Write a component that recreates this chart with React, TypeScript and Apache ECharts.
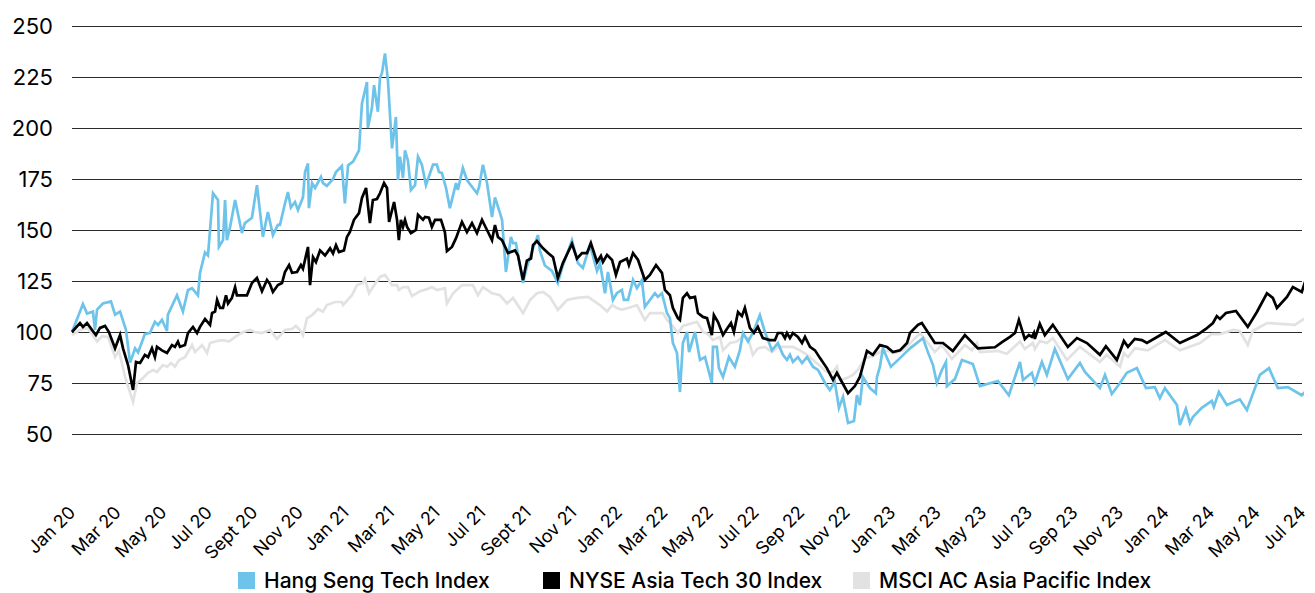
import React, { useEffect, useRef } from "react";
import * as echarts from "echarts";

// x = months since Jan 2020 (fractional), y = index level (Jan 2020 = 100)
const tickLabels = [
  "Jan 20", "Mar 20", "May 20", "Jul 20", "Sept 20", "Nov 20",
  "Jan 21", "Mar 21", "May 21", "Jul 21", "Sept 21", "Nov 21",
  "Jan 22", "Mar 22", "May 22", "Jul 22", "Sep 22", "Nov 22",
  "Jan 23", "Mar 23", "May 23", "Jul 23", "Sep 23", "Nov 23",
  "Jan 24", "Mar 24", "May 24", "Jul 24",
];

const seriesNames = ["Hang Seng Tech Index", "NYSE Asia Tech 30 Index", "MSCI AC Asia Pacific Index"];

const hangSeng: [number, number][] = [
  [0, 100], [0.48, 113.7], [0.66, 109], [0.92, 110], [1.01, 101], [1.1, 111], [1.36, 114], [1.71, 115],
  [1.89, 108.5], [2.11, 110], [2.37, 101], [2.55, 85], [2.77, 92], [2.9, 90], [3.2, 99], [3.42, 99.5],
  [3.64, 105], [3.78, 103.5], [3.95, 106], [4.17, 100.5], [4.21, 108.5], [4.61, 118], [4.87, 110],
  [5.09, 120.5], [5.27, 121.5], [5.53, 118], [5.62, 129], [5.84, 139], [5.97, 137.5], [6.19, 168],
  [6.41, 164.7], [6.45, 141.7], [6.63, 145], [6.72, 164.7], [6.8, 145], [6.94, 151.5], [7.16, 164.7],
  [7.46, 148.5], [7.59, 153.4], [7.9, 156], [8.12, 172], [8.38, 146.6], [8.6, 158.8], [8.82, 147.5],
  [9.04, 152.5], [9.13, 152.5], [9.35, 163], [9.48, 168.6], [9.61, 161], [9.79, 163.7], [9.92, 159.8],
  [10.14, 166], [10.23, 178.4], [10.36, 182.6], [10.4, 160.7], [10.54, 173], [10.67, 170.6], [10.93, 176],
  [11.02, 173], [11.19, 171.6], [11.46, 175], [11.59, 178.4], [11.85, 181.4], [11.98, 163], [12.12, 181.7],
  [12.34, 183.5], [12.6, 189], [12.73, 212], [12.95, 222.5], [12.99, 200], [13.17, 210], [13.26, 221],
  [13.43, 208], [13.52, 224.5], [13.61, 227], [13.74, 236.6], [13.87, 223.5], [14.05, 190], [14.22, 205.4],
  [14.31, 174.5], [14.4, 186], [14.53, 175.5], [14.62, 189], [14.75, 184], [14.88, 169.6], [15.06, 172],
  [15.19, 186], [15.36, 182], [15.54, 172], [15.72, 177.9], [15.85, 182], [16.02, 182], [16.11, 178.4],
  [16.24, 177.9], [16.42, 170.6], [16.59, 160.7], [16.86, 173], [16.94, 169.6], [17.16, 180.4],
  [17.34, 174.5], [17.6, 170.6], [17.78, 168], [17.87, 171], [18.04, 182], [18.22, 173], [18.44, 156.4],
  [18.57, 166], [18.79, 158.3], [18.88, 155], [19.05, 129.4], [19.27, 146.6], [19.36, 143.6],
  [19.49, 143.6], [19.8, 124], [19.97, 132], [20.24, 141], [20.46, 147.5], [20.54, 140], [20.76, 132.6],
  [21.07, 130], [21.33, 124], [21.55, 132.6], [21.95, 145], [22.21, 133.8], [22.43, 131.4], [22.74, 142.6],
  [23.05, 130], [23.18, 133.8], [23.4, 119], [23.53, 129.4], [23.75, 115.7], [23.92, 119], [24.14, 120.6],
  [24.23, 115.7], [24.41, 115.7], [24.63, 125.5], [24.8, 121.5], [25.02, 125.5], [25.15, 112.3],
  [25.37, 115.7], [25.59, 119], [25.72, 117.2], [25.9, 119], [26.12, 109.3], [26.25, 106.8], [26.38, 94.6],
  [26.56, 89.7], [26.69, 70.6], [26.82, 94.6], [27.0, 100], [27.09, 90.2], [27.35, 100], [27.57, 86.3],
  [27.79, 87.7], [28.09, 75], [28.14, 92.7], [28.31, 92.7], [28.4, 82.3], [28.58, 78], [28.84, 87.7],
  [29.1, 83], [29.32, 91], [29.46, 99.5], [29.68, 95.3], [29.89, 99.5], [30.2, 108.3], [30.42, 100],
  [30.73, 91], [30.99, 94.6], [31.21, 88.8], [31.39, 86.3], [31.52, 88.8], [31.65, 85.3], [31.87, 87.7],
  [32.05, 84.8], [32.27, 87.7], [32.53, 83], [32.75, 81.4], [33.06, 75], [33.27, 71.6], [33.49, 75.5],
  [33.67, 62.8], [33.85, 68.2], [34.07, 55.4], [34.33, 56.4], [34.46, 69], [34.59, 64.2], [34.72, 78],
  [35.03, 72.5], [35.29, 70], [35.34, 78], [35.47, 83], [35.6, 92], [35.95, 83], [36.35, 87.2], [36.79, 92],
  [37.36, 97], [37.58, 90], [37.8, 83.8], [37.97, 75], [38.19, 81.4], [38.37, 85.3], [38.41, 73.5],
  [38.76, 76.9], [39.07, 86.3], [39.55, 84.3], [39.86, 73.5], [40.65, 76], [41.13, 69], [41.62, 85.3],
  [41.75, 76.5], [42.14, 80], [42.27, 75], [42.58, 85.3], [42.8, 79], [43.15, 91.7], [43.72, 76.9],
  [44.25, 84.8], [44.47, 80.4], [45.13, 72.5], [45.35, 79], [45.65, 69.6], [46.01, 75], [46.31, 80],
  [46.75, 82.3], [47.15, 72.5], [47.54, 73], [47.76, 67.6], [47.98, 72.5], [48.51, 64.2], [48.64, 54.4],
  [48.9, 62.3], [49.08, 55.4], [49.21, 58.3], [49.6, 62.8], [50.04, 66.2], [50.13, 63.3], [50.35, 70.6],
  [50.7, 64.2], [51.27, 67], [51.58, 61.8], [52.15, 79], [52.55, 82.3], [52.94, 72.5], [53.38, 73],
  [53.99, 69], [54.35, 73], [54.57, 69.6],
];

const nyseAsia: [number, number][] = [
  [0, 100], [0.35, 104.4], [0.48, 102.5], [0.66, 104.4], [0.88, 101], [1.05, 98.5], [1.23, 102], [1.45, 103],
  [1.62, 100], [1.89, 92], [2.11, 98.5], [2.24, 92], [2.46, 83.8], [2.68, 71.6], [2.81, 85.3], [2.99, 84.8],
  [3.2, 88.8], [3.34, 87.7], [3.51, 92], [3.64, 87.7], [3.73, 92.7], [3.95, 91], [4.17, 89.7], [4.39, 93.6],
  [4.52, 92.7], [4.65, 95.3], [4.74, 92.7], [4.96, 93.6], [5.09, 99.5], [5.31, 102.5], [5.49, 99.5],
  [5.62, 102.5], [5.84, 106.4], [6.06, 103.5], [6.15, 109.3], [6.28, 110], [6.37, 115.7], [6.5, 111.8],
  [6.63, 111.8], [6.76, 118], [6.85, 114], [7.02, 116.7], [7.16, 122], [7.24, 118], [7.68, 118], [7.9, 124],
  [8.12, 126.5], [8.34, 120], [8.56, 125.5], [8.69, 123.5], [8.82, 119.6], [9.04, 123], [9.22, 124],
  [9.35, 129.4], [9.53, 132.8], [9.66, 129], [9.88, 129.4], [10.05, 132.8], [10.14, 131], [10.36, 141.7],
  [10.45, 123], [10.58, 136.7], [10.71, 134.3], [10.89, 140], [11.11, 137.5], [11.33, 141], [11.46, 138.5],
  [11.59, 142.6], [11.72, 139.2], [11.94, 140], [12.07, 146.6], [12.2, 149], [12.38, 155], [12.6, 158.3],
  [12.73, 165.7], [12.91, 170.6], [13.08, 153.4], [13.21, 164.7], [13.39, 165.2], [13.52, 168], [13.7, 173],
  [13.83, 170.6], [13.92, 154], [14.14, 163.7], [14.27, 155], [14.35, 145], [14.44, 155], [14.53, 151.5],
  [14.62, 155], [14.71, 151.5], [14.88, 148.5], [15.1, 150], [15.19, 157.4], [15.41, 155], [15.5, 156.4],
  [15.67, 156], [15.8, 151.5], [15.94, 155], [16.2, 155], [16.37, 149], [16.46, 139.7], [16.68, 141.7],
  [16.86, 146], [17.12, 154], [17.34, 149], [17.56, 153.4], [17.78, 148.5], [18.0, 155], [18.22, 150],
  [18.44, 145], [18.57, 152.4], [18.7, 146.6], [18.88, 145], [19.14, 138.7], [19.45, 140], [19.58, 137.5],
  [19.8, 125.5], [19.97, 135], [20.15, 136], [20.24, 142.6], [20.41, 144.6], [20.68, 141], [20.9, 138.7],
  [21.12, 136.7], [21.33, 126.5], [21.55, 133.8], [21.95, 143.2], [22.17, 136], [22.39, 138.7],
  [22.61, 138.7], [22.78, 143.6], [23.05, 134.3], [23.22, 137.3], [23.31, 134.3], [23.49, 137.8],
  [23.71, 135.3], [23.88, 128], [24.06, 134.3], [24.36, 136], [24.45, 132.8], [24.63, 138.7], [24.85, 135.3],
  [25.15, 125.5], [25.37, 128], [25.64, 132.8], [25.9, 129], [26.03, 120.6], [26.25, 118], [26.38, 111.8],
  [26.6, 106.8], [26.69, 105.9], [26.82, 116.7], [27.0, 119], [27.13, 116.7], [27.35, 117.2], [27.48, 109.3],
  [27.7, 107.4], [27.88, 106.8], [28.09, 98.5], [28.18, 108.3], [28.36, 104.9], [28.58, 98.5], [28.75, 101.5],
  [28.93, 104.4], [29.06, 100], [29.24, 109.8], [29.41, 107.8], [29.54, 111.8], [29.76, 102], [29.94, 99.5],
  [30.11, 102.5], [30.33, 97], [30.64, 96], [30.86, 96], [30.99, 99.5], [31.17, 99.5], [31.3, 97],
  [31.39, 99.5], [31.52, 97], [31.65, 99.5], [31.87, 97.6], [32.05, 94.6], [32.18, 97.6], [32.4, 92.7],
  [32.62, 91], [32.84, 87.2], [33.14, 82.3], [33.41, 76.5], [33.58, 80], [33.8, 75.5], [34.07, 70],
  [34.37, 73.5], [34.59, 78], [34.9, 90.7], [35.16, 88.8], [35.47, 93.6], [35.78, 92.7], [36.04, 90.2],
  [36.35, 91], [36.66, 94.6], [36.79, 99.5], [37.14, 103.5], [37.31, 104.4], [37.88, 94.6], [38.24, 94.6],
  [38.67, 90.7], [39.2, 98.5], [39.77, 92], [40.52, 92.5], [40.83, 95], [41.18, 97.6], [41.4, 99.5],
  [41.57, 105.9], [41.83, 96.6], [42.01, 98.5], [42.14, 97.6], [42.23, 99.5], [42.27, 96.6], [42.49, 104],
  [42.71, 98.5], [43.06, 103.5], [43.72, 92.7], [44.12, 97], [44.56, 94.6], [45.13, 88.8], [45.39, 93],
  [45.87, 86.3], [46.18, 95.6], [46.36, 92.7], [46.66, 96.6], [46.97, 96], [47.19, 94.6], [48.02, 100],
  [48.64, 94.6], [49.39, 98.5], [49.78, 101.5], [50.09, 104.4], [50.26, 107.8], [50.4, 106.4],
  [50.66, 109.3], [51.1, 110.3], [51.62, 102.5], [52.02, 109.8], [52.46, 119], [52.72, 116.7],
  [52.9, 111.8], [53.34, 117.2], [53.6, 122], [53.99, 119.6], [54.3, 130.4], [54.57, 120.6],
];

const msciAp: [number, number][] = [
  [0, 98.5], [0.35, 101], [0.7, 102], [1.1, 95.3], [1.32, 98], [1.58, 97.6], [1.89, 87.7], [2.06, 91],
  [2.33, 78], [2.68, 65.7], [2.85, 75], [3.07, 77], [3.34, 80], [3.56, 81.4], [3.73, 80.4], [3.99, 83.8],
  [4.17, 83], [4.35, 84.8], [4.52, 83], [4.7, 86.3], [4.96, 87.7], [5.27, 93.6], [5.4, 90.2], [5.71, 93.6],
  [5.93, 89.7], [6.06, 94.6], [6.37, 95.6], [6.63, 96], [6.89, 95.3], [7.16, 97.6], [7.51, 100], [7.81, 101],
  [8.03, 100], [8.34, 99.5], [8.69, 101], [9.0, 96.6], [9.35, 101], [9.66, 101.5], [9.83, 103], [10.01, 101],
  [10.14, 98.5], [10.32, 106.8], [10.54, 108.3], [10.8, 111.3], [11.02, 110], [11.19, 113.2], [11.55, 114.7],
  [11.85, 114.7], [11.9, 113.2], [12.29, 118], [12.51, 123], [12.77, 124], [12.86, 126], [13.04, 119],
  [13.21, 122], [13.52, 127], [13.74, 128], [13.87, 126], [14.05, 123], [14.27, 123], [14.35, 120.6],
  [14.53, 122], [14.75, 122], [14.93, 117.6], [15.28, 120], [15.58, 121], [15.8, 122], [16.02, 120.6],
  [16.37, 121.5], [16.46, 114], [16.73, 119], [17.12, 123], [17.6, 123], [17.82, 118], [18.04, 122],
  [18.44, 119], [18.79, 118], [19.1, 114], [19.36, 116.7], [19.8, 109.3], [20.11, 115.7], [20.41, 119],
  [20.68, 119.6], [20.98, 117.2], [21.33, 110.8], [21.73, 115.7], [22.17, 116.7], [22.65, 117.2],
  [23.18, 113.2], [23.49, 110], [23.71, 113.2], [23.92, 111.8], [24.14, 111], [24.5, 112], [24.8, 113.2],
  [25.15, 105.9], [25.37, 109.3], [25.68, 109.3], [25.94, 109.3], [26.12, 105.9], [26.34, 103.5],
  [26.6, 99.5], [26.82, 103], [27.26, 104.4], [27.44, 105], [27.7, 100], [27.92, 99], [28.14, 96],
  [28.31, 97], [28.45, 97.6], [28.58, 91], [28.89, 94.6], [29.19, 95.3], [29.46, 98], [29.68, 97],
  [29.89, 88.8], [30.11, 92], [30.42, 92.7], [30.73, 90.2], [30.99, 92.7], [31.39, 92.7], [31.65, 92.7],
  [31.96, 91], [32.27, 88.8], [32.53, 86.3], [32.84, 83.3], [33.14, 80.4], [33.41, 80.4], [33.58, 83],
  [33.71, 76.5], [34.02, 77.4], [34.28, 79], [34.5, 81.4], [34.81, 87.2], [35.16, 88.2], [35.56, 90.7],
  [35.82, 90.7], [36.13, 89.7], [36.48, 91], [36.87, 95.3], [37.23, 99.5], [37.58, 94.6], [37.88, 90.2],
  [38.19, 93.6], [38.63, 86.8], [39.2, 93.6], [39.51, 91], [39.73, 94.6], [39.86, 90.2], [40.65, 90.7],
  [41.04, 89.3], [41.62, 95.3], [41.83, 91.7], [42.19, 94.6], [42.27, 91.7], [42.49, 95.6], [42.8, 94.6],
  [43.06, 97], [43.68, 86.3], [44.25, 92.7], [45.13, 85.3], [45.43, 88.8], [46.01, 83], [46.18, 89.7],
  [46.36, 87.7], [46.66, 92], [47.23, 91], [47.98, 96], [48.64, 91], [49.52, 94.6], [50.04, 99], [50.4, 99],
  [50.97, 101], [51.27, 100.5], [51.62, 93.6], [51.84, 100.5], [52.46, 104.4], [53.03, 104], [53.69, 103.5],
  [54.35, 108.3], [54.57, 106.4],
];

const yTicks = { min: 50, max: 250, interval: 25 };

const COLORS = { hangSeng: "#6EC3EA", nyse: "#000000", msci: "#E2E2E2" };
const FONT = "Inter, 'Liberation Sans', Arial, sans-serif";
const LEGEND_LEFTS = [233, 538, 848];

export default function App() {
  const ref = useRef<HTMLDivElement>(null);

  useEffect(() => {
    if (!ref.current) return;
    const chart = echarts.init(ref.current, undefined, { renderer: "svg" });
    const lineCommon = {
      type: "line" as const,
      showSymbol: false,
      symbol: "none",
      clip: false,
      lineStyle: { width: 2.7, join: "miter" as const },
    };
    const legendCommon = {
      top: 565,
      icon: "rect",
      itemWidth: 17,
      itemHeight: 17,
      textStyle: {
        fontFamily: FONT,
        fontSize: 21,
        fontWeight: 500,
        color: "#000",
        padding: [0, 0, 0, 4],
      },
    };
    chart.setOption({
      animation: false,
      backgroundColor: "#ffffff",
      grid: { left: 72, right: 13, top: 26, bottom: 159, containLabel: false },
      legend: seriesNames.map((n, i) => ({ ...legendCommon, left: LEGEND_LEFTS[i], data: [n] })),
      xAxis: {
        type: "value",
        min: 0,
        max: 54,
        interval: 2,
        axisLine: { show: false },
        axisTick: { show: false },
        splitLine: { show: false },
        axisLabel: {
          rotate: 45,
          margin: 75,
          fontFamily: FONT,
          fontSize: 18,
          color: "#000",
          formatter: (v: number) => tickLabels[Math.round(v / 2)] ?? "",
        },
      },
      yAxis: {
        type: "value",
        min: yTicks.min,
        max: yTicks.max,
        interval: yTicks.interval,
        axisLine: { show: false },
        axisTick: { show: false },
        splitLine: { show: true, lineStyle: { color: "#2b2b2b", width: 1.2 } },
        axisLabel: {
          margin: 19,
          fontFamily: FONT,
          fontSize: 22,
          color: "#000",
        },
      },
      series: [
        { ...lineCommon, name: seriesNames[2], data: msciAp, color: COLORS.msci, lineStyle: { ...lineCommon.lineStyle, color: COLORS.msci } },
        { ...lineCommon, name: seriesNames[0], data: hangSeng, color: COLORS.hangSeng, lineStyle: { ...lineCommon.lineStyle, color: COLORS.hangSeng } },
        { ...lineCommon, name: seriesNames[1], data: nyseAsia, color: COLORS.nyse, lineStyle: { ...lineCommon.lineStyle, color: COLORS.nyse } },
      ],
    });
    return () => chart.dispose();
  }, []);

  return (
    <div
      ref={ref}
      style={{ position: "fixed", left: 0, top: 0, width: 1315, height: 593, background: "#fff" }}
    />
  );
}
